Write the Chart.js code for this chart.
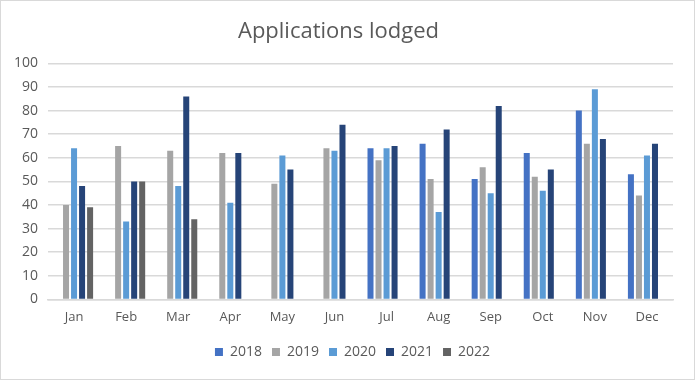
<!DOCTYPE html>
<html>
<head>
<meta charset="utf-8">
<script src="https://cdn.jsdelivr.net/npm/chart.js@4"></script>
<style>
html,body{margin:0;padding:0;background:#fff;}
#wrap{position:absolute;left:0;top:0;width:693px;height:378px;border:1px solid #D9D9D9;}
canvas{display:block;}
</style>
</head>
<body>
<div id="wrap"><canvas id="c" width="693" height="378"></canvas></div>
<script>
const months = ["Jan","Feb","Mar","Apr","May","Jun","Jul","Aug","Sep","Oct","Nov","Dec"];
const s2018 = [null,null,null,null,null,null,64,66,51,62,80,53];
const s2019 = [40,65,63,62,49,64,59,51,56,52,66,44];
const s2020 = [64,33,48,41,61,63,64,37,45,46,89,61];
const s2021 = [48,50,86,62,55,74,65,72,82,55,68,66];
const s2022 = [39,50,34,null,null,null,null,null,null,null,null,null];
const seriesNames = ["2018","2019","2020","2021","2022"];
const colors = ["#4472C4","#A5A5A5","#5B9BD5","#264478","#636363"];
const allSeries = [s2018,s2019,s2020,s2021,s2022];

const legendShift = {
  id: 'legendShift',
  afterLayout(chart) {
    if (chart.legend) { chart.legend.left += 14; chart.legend.right += 14; }
  }
};

new Chart(document.getElementById('c'), {
  type: 'bar',
  data: {
    labels: months,
    datasets: allSeries.map((d,i)=>({
      label: seriesNames[i],
      data: d,
      backgroundColor: colors[i],
      borderWidth: 0,
      barPercentage: 0.75,
      categoryPercentage: 0.77
    }))
  },
  plugins: [legendShift],
  options: {
    responsive: false,
    animation: false,
    layout: {padding: {left: 3, right: 21, top: 10, bottom: 10}},
    plugins: {
      title: {display: true, text: 'Applications lodged', color: '#595959',
        font: {family: '"Open Sans", sans-serif', size: 22, weight: 'normal'},
        padding: {top: 8, bottom: 18}},
      legend: {position: 'bottom', labels: {color: '#595959', boxWidth: 8, boxHeight: 8,
        font: {family: '"Open Sans", sans-serif', size: 14}, padding: 10}},
      tooltip: {enabled: false}
    },
    scales: {
      x: {grid: {display: false, drawTicks: false}, border: {color: '#D9D9D9', width: 1.5},
        ticks: {color: '#595959', font: {family: '"Open Sans", sans-serif', size: 13}, padding: 10}},
      y: {min: 0, max: 100, ticks: {stepSize: 10, color: '#595959', font: {family: '"Open Sans", sans-serif', size: 14}, padding: 10},
        grid: {color: '#D9D9D9', lineWidth: 1.5, drawTicks: false}, border: {display: false}}
    }
  }
});
</script>
</body>
</html>
